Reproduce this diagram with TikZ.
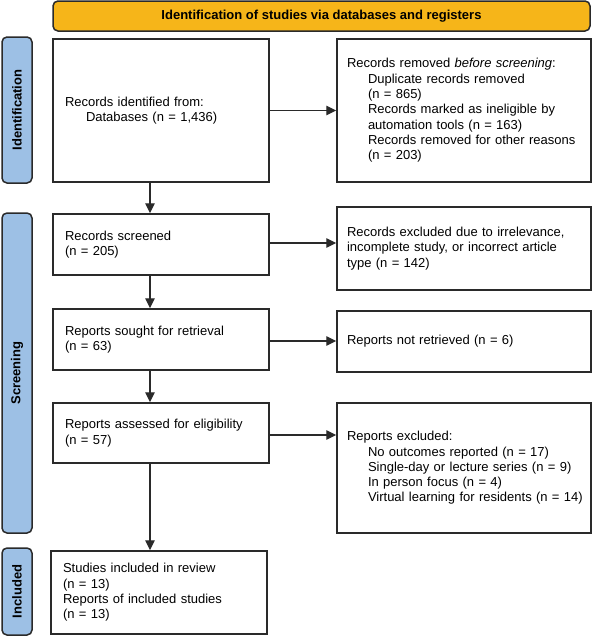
\documentclass[tikz,border=0pt]{standalone}
\usepackage{fontspec}
\setmainfont{Liberation Sans}
\usetikzlibrary{arrows.meta}
\definecolor{lineC}{HTML}{2A2A2A}
\definecolor{bannerC}{HTML}{F6B519}
\definecolor{sideC}{HTML}{9DC0E5}
\tikzset{
  box/.style={draw=lineC, line width=1.5pt, fill=white, align=left,
    inner xsep=12pt, inner ysep=0pt, font=\fontsize{13}{15.3}\selectfont},
  rbox/.style={box, text width=234pt, inner xsep=10pt},
  lbox/.style={box, text width=192pt},
  side/.style={draw=lineC, line width=1.5pt, fill=sideC, rounded corners=5pt,
    minimum width=30pt},
  sidetext/.style={rotate=90, font=\bfseries\fontsize{13}{15}\selectfont},
  banner/.style={draw=lineC, line width=1.5pt, fill=bannerC, rounded corners=5pt,
    minimum width=537pt, minimum height=30pt, font=\bfseries\fontsize{13}{15}\selectfont},
  arr/.style={draw=lineC, line width=1.4pt, -{Triangle[length=10pt,width=9.5pt]}}
}
\newcommand{\ind}{\hspace*{21pt}}
\begin{document}
\begin{tikzpicture}[x=1pt,y=-1pt]
\useasboundingbox (0,0) rectangle (592,637);
% banner
\node[banner] (ban) at (321.5,16) {Identification of studies via databases and registers};
% side labels
\node[side, minimum height=146pt] (sid) at (17,110) {};
\node[sidetext] (sidt) at (sid.center) {Identification};
\node[side, minimum height=320pt] (sscr) at (17,373) {};
\node[sidetext] (sscrt) at (sscr.center) {Screening};
\node[side, minimum height=87pt] (sinc) at (17,591.5) {};
\node[sidetext] (sinct) at (sinc.center) {Included};
% left column
\node[lbox, minimum height=143pt] (b1) at (161,110.5)
  {Records identified from:\\ \ind Databases (n = 1,436)};
\node[lbox, minimum height=61pt] (b2) at (161,244.5)
  {Records screened\\(n = 205)};
\node[lbox, minimum height=61pt] (b3) at (161,339.5)
  {Reports sought for retrieval\\(n = 63)};
\node[lbox, minimum height=60pt] (b4) at (161,433)
  {Reports assessed for eligibility\\(n = 57)};
\node[lbox, minimum height=83pt] (b5) at (159,592.5)
  {Studies included in review\\(n = 13)\\Reports of included studies\\(n = 13)};
% right column
\node[rbox, minimum height=143pt] (r1) at (464,110.5)
  {Records removed \textit{before screening}:\\
   \ind Duplicate records removed\\
   \ind (n = 865)\\
   \ind Records marked as ineligible by\\
   \ind automation tools (n = 163)\\
   \ind \mbox{Records removed for other reasons}\\
   \ind (n = 203)};
\node[rbox, minimum height=83pt] (r2) at (464,248.5)
  {Records excluded due to irrelevance,\\incomplete study, or incorrect article\\type (n = 142)};
\node[rbox, minimum height=61pt] (r3) at (464,341.5)
  {Reports not retrieved (n = 6)};
\node[rbox, minimum height=130pt] (r4) at (464,468)
  {Reports excluded:\\
   \ind \mbox{No outcomes reported (n = 17)}\\
   \ind \mbox{Single-day or lecture series (n = 9)}\\
   \ind \mbox{In person focus (n = 4)}\\
   \ind \mbox{Virtual learning for residents (n = 14)}};
% horizontal arrows
\draw[arr] (b1.east) -- (b1.east -| r1.west);
\draw[arr] ([yshift=1.5pt]b2.east) -- ([yshift=1.5pt]b2.east -| r2.west);
\draw[arr] ([yshift=-1.5pt]b3.east) -- ([yshift=-1.5pt]b3.east -| r3.west);
\draw[arr] ([yshift=-2pt]b4.east) -- ([yshift=-2pt]b4.east -| r4.west);
% vertical arrows
\coordinate (colx) at (150,0);
\draw[arr] (b1.south -| colx) -- (b2.north -| colx);
\draw[arr] (b2.south -| colx) -- (b3.north -| colx);
\draw[arr] (b3.south -| colx) -- (b4.north -| colx);
\draw[arr] (b4.south -| colx) -- (b5.north -| colx);
\end{tikzpicture}
\end{document}
